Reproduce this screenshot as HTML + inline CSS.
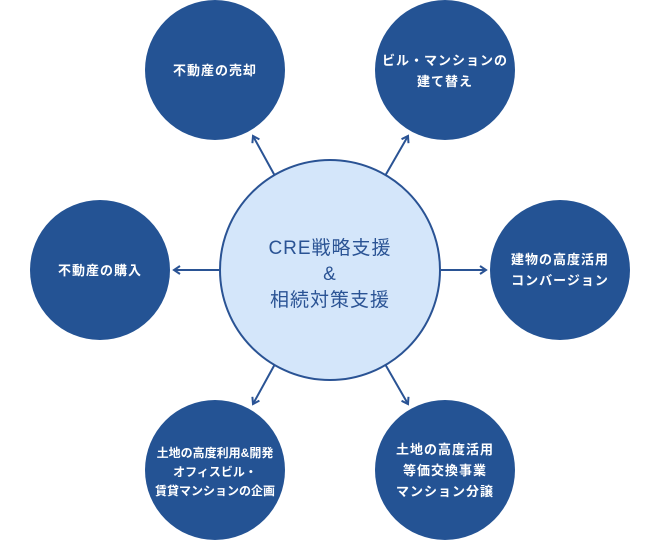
<!DOCTYPE html>
<html><head><meta charset="utf-8"><style>
html,body{margin:0;padding:0;background:#fff;}
svg{display:block;}
</style></head><body>
<svg width="660" height="540" viewBox="0 0 660 540" xmlns="http://www.w3.org/2000/svg">
<defs>
<marker id="a" markerWidth="10" markerHeight="10" refX="7" refY="5" orient="auto" markerUnits="userSpaceOnUse">
<path d="M1,1 L7,5 L1,9" fill="none" stroke="#2a5394" stroke-width="2"/>
</marker>
</defs>
<g stroke="#2a5394" stroke-width="2" marker-end="url(#a)">
<line x1="275" y1="176" x2="253" y2="136"/>
<line x1="385" y1="176" x2="408" y2="136"/>
<line x1="219" y1="270" x2="174" y2="270"/>
<line x1="441" y1="270" x2="486" y2="270"/>
<line x1="275" y1="364" x2="253" y2="404"/>
<line x1="385" y1="364" x2="408" y2="404"/>
</g>
<circle cx="330" cy="270" r="110" fill="#d4e6fa" stroke="#2a5394" stroke-width="2"/>
<g fill="#245394">
<circle cx="215" cy="70" r="70"/>
<circle cx="445" cy="70" r="70"/>
<circle cx="100" cy="270" r="70"/>
<circle cx="560" cy="270" r="70"/>
<circle cx="215" cy="470" r="70"/>
<circle cx="445" cy="470" r="70"/>
</g>
<g font-family="'Liberation Sans','Noto Sans CJK JP',sans-serif" text-anchor="middle" fill="#2a5394" font-size="19" letter-spacing="1">
<text x="330" y="254">CRE戦略支援</text>
<text x="330" y="280">&amp;</text>
<text x="330" y="306">相続対策支援</text>
</g>
<g font-family="'Liberation Sans','Noto Sans CJK JP',sans-serif" text-anchor="middle" fill="#fff" font-size="13" font-weight="bold" letter-spacing="1">
<text x="215" y="75">不動産の売却</text>
<text x="445" y="65">ビル・マンションの</text>
<text x="445" y="86">建て替え</text>
<text x="100" y="275">不動産の購入</text>
<text x="560" y="264">建物の高度活用</text>
<text x="560" y="285">コンバージョン</text>
<text x="215" y="457" font-size="12" letter-spacing="0">土地の高度利用&amp;開発</text>
<text x="215" y="476" font-size="12" letter-spacing="0">オフィスビル・</text>
<text x="215" y="495" font-size="12" letter-spacing="0">賃貸マンションの企画</text>
<text x="445" y="454">土地の高度活用</text>
<text x="445" y="475">等価交換事業</text>
<text x="445" y="496">マンション分譲</text>
</g>
</svg>
</body></html>
